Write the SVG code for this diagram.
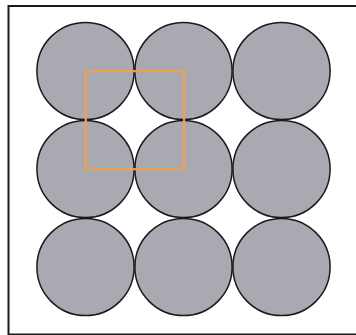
<svg xmlns="http://www.w3.org/2000/svg" width="356" height="335" viewBox="0 0 356 335">
<style>
.c{fill:#a9aab1;stroke:#1a1a1a;stroke-width:1.5}
.frame{fill:#fff;stroke:#1a1a1a;stroke-width:2}
.sq{fill:none;stroke:#f0a04f;stroke-width:2.2;stroke-linejoin:miter}
</style>
<rect class="frame" x="8.5" y="6" width="352" height="328.5"/>
<g id="circles">
<circle id="c11" class="c" cx="85.5" cy="71" r="48.6"/>
<circle id="c12" class="c" cx="183.5" cy="71" r="48.6"/>
<circle id="c13" class="c" cx="281.5" cy="71" r="48.6"/>
<circle id="c21" class="c" cx="85.5" cy="169" r="48.6"/>
<circle id="c22" class="c" cx="183.5" cy="169" r="48.6"/>
<circle id="c23" class="c" cx="281.5" cy="169" r="48.6"/>
<circle id="c31" class="c" cx="85.5" cy="267" r="48.6"/>
<circle id="c32" class="c" cx="183.5" cy="267" r="48.6"/>
<circle id="c33" class="c" cx="281.5" cy="267" r="48.6"/>
</g>
<g id="square">
<rect class="sq" x="85.8" y="71.2" width="98.2" height="98"/>
</g>
</svg>
